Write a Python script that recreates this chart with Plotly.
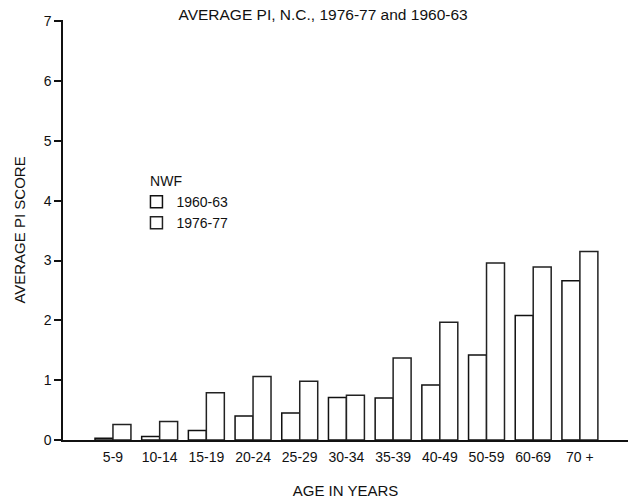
import plotly.graph_objects as go

categories = ["5-9", "10-14", "15-19", "20-24", "25-29", "30-34", "35-39", "40-49", "50-59", "60-69", "70 +"]
vals_1960 = [0.03, 0.06, 0.16, 0.40, 0.45, 0.71, 0.70, 0.92, 1.42, 2.08, 2.66]
vals_1976 = [0.26, 0.31, 0.79, 1.06, 0.98, 0.75, 1.37, 1.97, 2.96, 2.89, 3.15]
y_ticks = [0, 1, 2, 3, 4, 5, 6, 7]

xpos = list(range(1, len(categories) + 1))
FONT = "Liberation Sans, Arial, sans-serif"

fig = go.Figure()
fig.add_trace(go.Bar(x=xpos, y=vals_1960, name="1960-63",
                     marker=dict(color="white", line=dict(color="#111", width=1.5))))
fig.add_trace(go.Bar(x=xpos, y=vals_1976, name="1976-77",
                     marker=dict(color="white", line=dict(color="#222", width=1.5))))

fig.update_layout(
    width=631, height=500,
    margin=dict(l=63, r=3, t=20, b=57),
    paper_bgcolor="white", plot_bgcolor="white",
    barmode="group", bargap=0.23, bargroupgap=0,
    font=dict(family=FONT, size=12, color="#111"),
    title=dict(text="AVERAGE PI, N.C., 1976-77 and 1960-63", x=0.512, xanchor="center",
               y=0.97, yanchor="middle", font=dict(size=15.5, color="#111")),
    showlegend=True,
    legend=dict(title=dict(text="&nbsp;&nbsp;&nbsp;NWF", font=dict(size=14)), x=0.13, y=0.648,
                xanchor="left", yanchor="top", bgcolor="rgba(0,0,0,0)",
                font=dict(size=14), tracegroupgap=0),
    xaxis=dict(range=[-0.07, 12.03], tickvals=xpos, ticktext=categories,
               showline=True, linecolor="#111", linewidth=1.5, ticks="outside",
               ticklen=3, tickcolor="rgba(0,0,0,0)",
               showgrid=False, zeroline=False, tickfont=dict(size=14),
               title=dict(text="AGE IN YEARS", font=dict(size=15), standoff=22)),
    yaxis=dict(range=[0, 7.02], tickvals=y_ticks, showline=True, linecolor="#111",
               linewidth=1.5, ticks="outside", ticklen=7, tickcolor="#111", tickwidth=1.5,
               showgrid=False, zeroline=False, tickfont=dict(size=14),
               title=dict(text="AVERAGE PI SCORE", font=dict(size=15), standoff=14)),
)

fig.write_html("out.html")
